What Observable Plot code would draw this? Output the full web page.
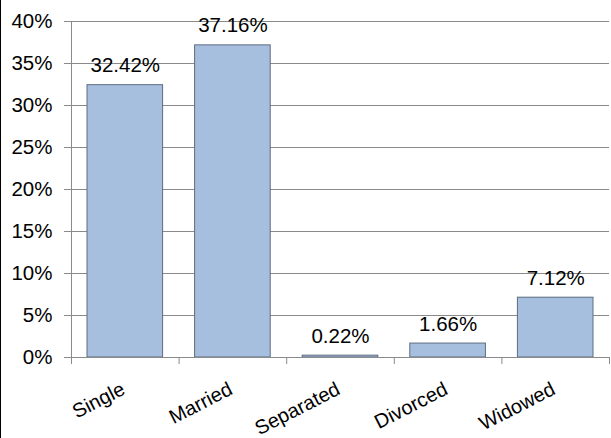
<!DOCTYPE html>
<html>
<head>
<meta charset="utf-8">
<script src="https://cdn.jsdelivr.net/npm/d3@7"></script>
<script src="https://cdn.jsdelivr.net/npm/@observablehq/plot@0.6"></script>
<style>
  html, body { margin: 0; padding: 0; background: #fff; }
  #chart { width: 611px; height: 438px; box-sizing: border-box; border-left: 1px solid #000; }
  #chart svg { display: block; }
</style>
</head>
<body>
<div id="chart"></div>
<script>
// Marital status shares (percent of respondents)
const categories = ["Single", "Married", "Separated", "Divorced", "Widowed"];
const shares = [32.42, 37.16, 0.22, 1.66, 7.12];
const yTicks = [0, 5, 10, 15, 20, 25, 30, 35, 40];

const rows = categories.map((category, i) => ({category, index: i, share: shares[i]}));
const boundaries = d3.range(categories.length + 1);

const axisGray = "#8a8a8a";
const font = "Liberation Sans, Arial, sans-serif";

const chart = Plot.plot({
  width: 610,
  height: 438,
  marginLeft: 70,
  marginRight: 2,
  marginTop: 21,
  marginBottom: 81,
  style: {fontFamily: font, color: "#000", background: "#fff"},
  x: {type: "linear", domain: [0, 5], axis: null},
  y: {type: "linear", domain: [0, 40], axis: null, label: null},
  marks: [
    // horizontal gridlines
    Plot.gridY(yTicks, {stroke: axisGray, strokeOpacity: 1, strokeWidth: 1}),
    // bars
    Plot.rectY(rows, {
      x1: d => d.index,
      x2: d => d.index + 1,
      y: "share",
      insetLeft: 16,
      insetRight: 16,
      fill: "#a7bfde",
      stroke: "#5c6c80",
      strokeWidth: 1
    }),
    // value labels
    Plot.text(rows, {
      x: d => d.index + 0.5,
      y: "share",
      text: d => d.share.toFixed(2) + "%",
      lineAnchor: "bottom",
      dy: -13,
      fontSize: 20.5,
      fill: "#000"
    }),
    // y axis line and ticks
    Plot.ruleX([0], {y1: 0, y2: 40, stroke: axisGray}),
    Plot.axisY(yTicks, {
      tickFormat: d => d + "%",
      tickSize: 7,
      tickPadding: 12,
      fontSize: 20.5,
      stroke: axisGray,
      fill: "#000",
      label: null
    }),
    // x axis line with ticks at category boundaries
    Plot.ruleY([0], {stroke: axisGray}),
    Plot.axisX(boundaries, {
      tickSize: 7,
      tickFormat: () => "",
      stroke: axisGray,
      label: null
    }),
    // rotated category labels
    Plot.text(rows, {
      x: d => d.index + 0.5,
      frameAnchor: "bottom",
      text: "category",
      rotate: -27,
      textAnchor: "end",
      lineAnchor: "bottom",
      dx: 1,
      dy: 36,
      fontSize: 20,
      fill: "#000"
    })
  ]
});

document.getElementById("chart").appendChild(chart);
</script>
</body>
</html>
